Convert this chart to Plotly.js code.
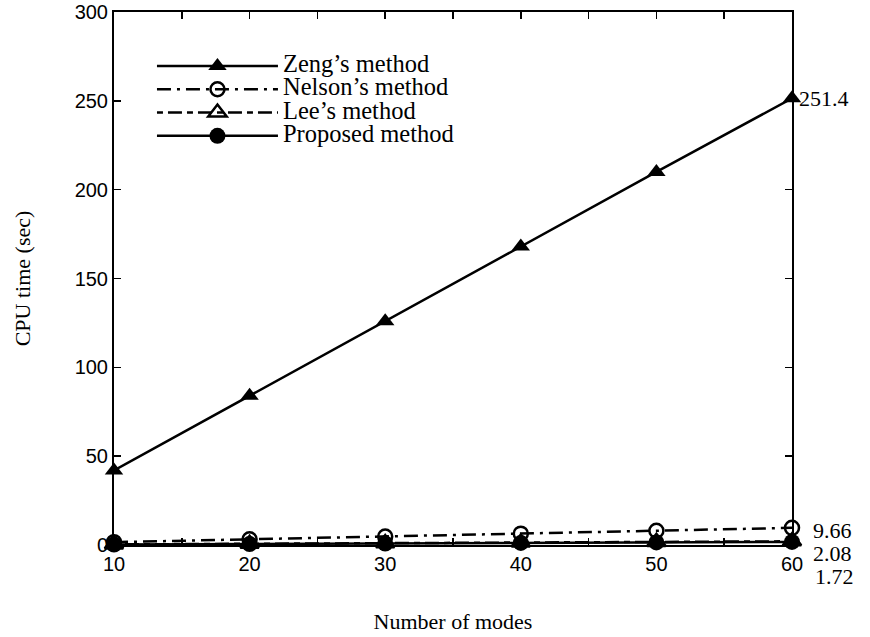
<!DOCTYPE html>
<html>
<head>
<meta charset="utf-8">
<script src="https://cdn.plot.ly/plotly-3.0.1.min.js"></script>
<style>html,body{margin:0;padding:0;background:#fff;}#chart{width:870px;height:637px;}</style>
</head>
<body>
<div id="chart"></div>
<script>
// ---- data ----
var modes = [10, 20, 30, 40, 50, 60];
var zeng = [42, 84, 126, 168, 210, 251.4];
var nelson = [1.6, 3.2, 4.8, 6.4, 8.0, 9.66];
var lee = [0.35, 0.7, 1.04, 1.39, 1.74, 2.08];
var proposed = [0.29, 0.57, 0.86, 1.15, 1.43, 1.72];
var seriesNames = ["Zeng\u2019s method", "Nelson\u2019s method", "Lee\u2019s method", "Proposed method"];
var endLabels = ["251.4", "9.66", "2.08", "1.72"];
var yTicks = [0, 50, 100, 150, 200, 250, 300];
var xTicks = [10, 20, 30, 40, 50, 60];

var serif = "Liberation Serif, Times New Roman, serif";
var sans = "Liberation Sans, Arial, sans-serif";

function nm(s){ return '<span style="font-size:24.5px">' + s + '</span>'; }

var traces = [
  {x: modes, y: zeng, name: nm(seriesNames[0]), mode: 'lines+markers',
   line: {color: '#000', width: 2.5},
   marker: {symbol: 'triangle-up', size: 16, color: '#000'}},
  {x: modes, y: nelson, name: nm(seriesNames[1]), mode: 'lines+markers',
   line: {color: '#000', width: 2.5, dash: '14px,6px,3px,6px'},
   marker: {symbol: 'circle-open', size: 14, color: '#000', line: {width: 2.5, color: '#000'}}},
  {x: modes, y: lee, name: nm(seriesNames[2]), mode: 'lines+markers',
   line: {color: '#000', width: 2.5, dash: '6px,5px,14px,5px'},
   marker: {symbol: 'triangle-up-open', size: 16, color: '#000', line: {width: 2.5, color: '#000'}}},
  {x: modes, y: proposed, name: nm(seriesNames[3]), mode: 'lines+markers',
   line: {color: '#000', width: 2.5},
   marker: {symbol: 'circle', size: 16, color: '#000'}}
];
traces.forEach(function(t){ t.cliponaxis = false; });

var yshifts = [0, -3, -12, -35];
var xshifts = [5, 19, 19, 21];
var endVals = [zeng[5], nelson[5], lee[5], proposed[5]];
var annotations = endLabels.map(function(txt, i){
  return {xref: 'paper', yref: 'y', x: 1, y: endVals[i], xanchor: 'left', yanchor: 'middle',
          xshift: xshifts[i], yshift: yshifts[i], text: txt, showarrow: false,
          font: {family: serif, size: 22, color: '#000'}};
});

var layout = {
  width: 870, height: 637,
  margin: {l: 114, r: 78, t: 12, b: 92},
  paper_bgcolor: '#fff', plot_bgcolor: '#fff',
  showlegend: true,
  legend: {x: 0.056, y: 0.93, xanchor: 'left', yanchor: 'top', itemwidth: 121,
           bgcolor: 'rgba(0,0,0,0)', borderwidth: 0,
           font: {family: serif, size: 15.6, color: '#000'}},
  xaxis: {range: [10, 60], tickvals: xTicks, ticktext: xTicks.map(String),
          ticks: 'inside', ticklen: 7, tickwidth: 1.5, tickcolor: '#000',
          minor: {dtick: 5, ticks: 'inside', ticklen: 7, tickwidth: 1.5, tickcolor: '#000'},
          showline: true, linecolor: '#000', linewidth: 2, mirror: 'ticks',
          showgrid: false, zeroline: false,
          tickfont: {family: sans, size: 20, color: '#000'},
          title: {text: 'Number of modes', font: {family: serif, size: 22, color: '#000'}, standoff: 40}},
  yaxis: {range: [0, 300], tickvals: yTicks, ticktext: yTicks.map(String),
          ticks: 'inside', ticklen: 7, tickwidth: 1.5, tickcolor: '#000',
          showline: true, linecolor: '#000', linewidth: 2, mirror: 'ticks',
          showgrid: false, zeroline: false,
          tickfont: {family: sans, size: 20, color: '#000'},
          title: {text: 'CPU time (sec)', font: {family: serif, size: 22, color: '#000'}, standoff: 38}},
  annotations: annotations
};

Plotly.newPlot('chart', traces, layout, {displayModeBar: false, staticPlot: true});
</script>
</body>
</html>
